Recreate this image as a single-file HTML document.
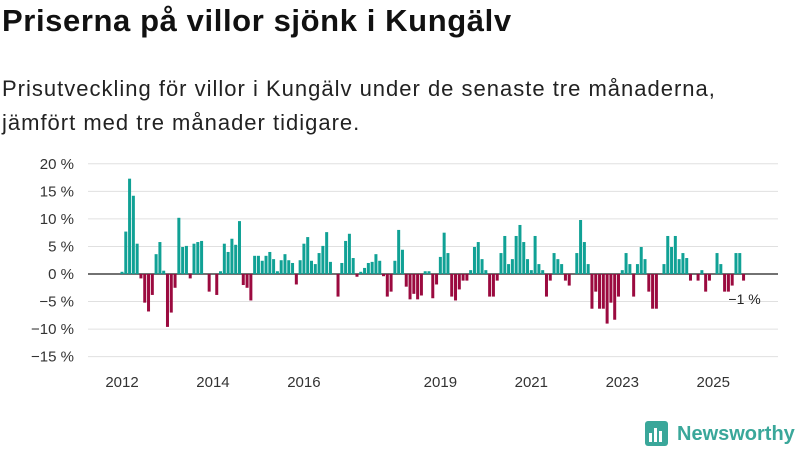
<!DOCTYPE html>
<html><head><meta charset="utf-8"><style>
body{margin:0;background:#fff;width:800px;height:450px;overflow:hidden;font-family:"Liberation Sans",sans-serif;}
#t{position:absolute;left:2px;top:3px;font-size:31px;letter-spacing:0.6px;font-weight:bold;color:#111;margin:0}
#s{position:absolute;left:2px;top:72px;font-size:22px;letter-spacing:1px;line-height:34px;color:#222;margin:0}
svg{position:absolute;left:0;top:0}
</style></head><body>
<h1 id="t">Priserna på villor sjönk i Kungälv</h1>
<p id="s">Prisutveckling för villor i Kungälv under de senaste tre månaderna,<br>jämfört med tre månader tidigare.</p>
<svg id="c" width="800" height="450"></svg>
<script>
const values=[0.4,7.7,17.3,14.2,5.5,-0.8,-5.2,-6.8,-3.8,3.6,
5.8,0.6,-9.6,-7,-2.5,10.2,4.9,5.1,-0.8,5.5,
5.8,6,0,-3.2,0,-3.8,0.5,5.5,4,6.4,
5.3,9.6,-2,-2.5,-4.8,3.3,3.3,2.4,3.3,4,
2.7,0.5,2.5,3.6,2.5,2,-1.9,2.5,5.5,6.7,
2.4,1.8,3.8,5.1,7.6,2.2,0,-4.1,2,6,
7.3,2.9,-0.5,0.4,1.1,2,2.2,3.6,2.4,-0.4,
-4.1,-3.2,2.4,8,4.4,-2.3,-4.6,-3.6,-4.6,-3.9,
0.5,0.5,-4.4,-1.9,3.1,7.5,3.8,-4.1,-4.8,-2.8,
-1.2,-1.2,0.7,4.9,5.8,2.7,0.7,-4.1,-4.1,-1.2,
3.8,6.9,1.8,2.7,6.9,8.9,5.8,2.7,0.7,6.9,
1.8,0.7,-4.1,-1.2,3.8,2.7,1.8,-1.2,-2.1,0,
3.8,9.8,5.8,1.8,-6.3,-3.2,-6.3,-6.3,-9,-5.2,
-8.3,-4.1,0.7,3.8,1.8,-4.1,1.8,4.9,2.7,-3.2,
-6.3,-6.3,0,1.8,6.9,4.9,6.9,2.7,3.8,2.9,
-1.2,0,-1.2,0.7,-3.2,-1.2,0,3.8,1.8,-3.2,
-3.2,-2.1,3.8,3.8,-1.2];
const yTicks=[20,15,10,5,0,-5,-10,-15];
const yearLabels=["2012","2014","2016","2019","2021","2023","2025"];
const yearMonthIdx=[0,24,48,84,108,132,156];
const lastLabel="−1 %";
const NS="http://www.w3.org/2000/svg",svg=document.getElementById('c');
const y=v=>274-v*5.51, x=i=>122+i*3.79;
function el(t,a,txt){const e=document.createElementNS(NS,t);for(const k in a)e.setAttribute(k,a[k]);if(txt!=null)e.textContent=txt;svg.appendChild(e);return e;}
yTicks.forEach(v=>{
 const g=el('line',{x1:88,x2:778,y1:y(v),y2:y(v),stroke:v===0?'#444':'#e0e0e0','stroke-width':v===0?1.5:1});
 
 
 const t=el('text',{x:74,y:y(v)+5,'text-anchor':'end','font-size':15,fill:'#333'},(v<0?'−'+(-v):v)+' %');
 
 
});
values.forEach((v,i)=>{
 const r=el('rect',{x:x(i)-1.5,width:3,y:v>=0?y(v):y(0),height:Math.abs(v)*5.51,fill:v>=0?'#10a195':'#9b0a3f'});
 
 
});
yearLabels.forEach((l,k)=>{
 const t=el('text',{x:x(yearMonthIdx[k]),y:387,'text-anchor':'middle','font-size':15,fill:'#333'},l);
 
 
});
const lt=el('text',{x:x(values.length-1)+1,y:304,'text-anchor':'middle','font-size':14,fill:'#222'},lastLabel);


</script>
<svg width="800" height="450" style="pointer-events:none">
<rect x="645" y="421" width="23" height="25" rx="3" fill="#3aa79a"/>
<rect x="649" y="433" width="3" height="9" fill="#fff"/><rect x="654" y="428" width="3" height="14" fill="#fff"/><rect x="659" y="431" width="3" height="11" fill="#fff"/>
<text x="677" y="440" font-size="20" font-weight="bold" fill="#3aa79a" font-family="Liberation Sans">Newsworthy</text>
</svg>
</body></html>
